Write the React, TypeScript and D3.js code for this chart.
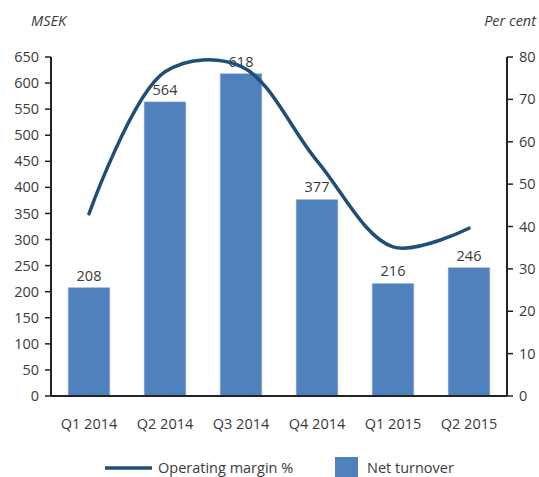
import React from "react";
import * as d3 from "d3";

const quarters = ["Q1 2014", "Q2 2014", "Q3 2014", "Q4 2014", "Q1 2015", "Q2 2015"];
const netTurnover = [208, 564, 618, 377, 216, 246];
const operatingMargin = [43, 76.5, 77.8, 55.5, 35.2, 39.6];
const leftTicks = d3.range(0, 651, 50);
const rightTicks = d3.range(0, 81, 10);

const W = 539;
const H = 477;
const left = 51;
const right = 507;
const top = 57;
const bottom = 396;

const font = "'Open Sans', 'Noto Sans', sans-serif";
const fs = 14.5;
const barColor = "#4f81bd";
const lineColor = "#1f4e79";
const textColor = "#3a3a3a";

const App = () => {
  const x = d3.scaleBand().domain(quarters).range([left, right]).paddingInner(0.45).paddingOuter(0.225);
  const yL = d3.scaleLinear().domain([0, 650]).range([bottom, top]);
  const yR = d3.scaleLinear().domain([0, 80]).range([bottom, top]);

  const line = d3
    .line<number>()
    .x((d, i) => (x(quarters[i]) as number) + x.bandwidth() / 2)
    .y((d) => yR(d))
    .curve(d3.curveCatmullRom.alpha(0.5));

  return (
    <svg
      width={W}
      height={H}
      style={{ position: "absolute", left: 0, top: 0, background: "#fff" }}
      fontFamily={font}
    >
      <text x={31} y={26} fontSize={fs} fontStyle="italic" fill={textColor}>MSEK</text>
      <text x={536} y={26} fontSize={fs} fontStyle="italic" fill={textColor} textAnchor="end">Per cent</text>

      {/* bars */}
      {netTurnover.map((v, i) => (
        <g key={quarters[i]}>
          <rect
            x={x(quarters[i])}
            y={yL(v)}
            width={x.bandwidth()}
            height={bottom - yL(v)}
            fill={barColor}
            stroke="#b8c4d6"
            strokeWidth={0.6}
          />
          <text
            x={(x(quarters[i]) as number) + x.bandwidth() / 2}
            y={yL(v) - 7}
            textAnchor="middle"
            fontSize={fs}
            fill={textColor}
          >
            {v}
          </text>
        </g>
      ))}

      {/* margin line */}
      <path d={line(operatingMargin) || ""} fill="none" stroke={lineColor} strokeWidth={3.5} strokeLinecap="round" />

      {/* left axis */}
      <line x1={left} x2={left} y1={top} y2={bottom} stroke="#222" strokeWidth={2} />
      {leftTicks.map((t) => (
        <g key={"l" + t}>
          <line x1={left - 6} x2={left} y1={yL(t)} y2={yL(t)} stroke="#222" strokeWidth={1.5} />
          <text x={left - 12} y={yL(t)} dy="0.35em" textAnchor="end" fontSize={fs} fill={textColor}>{t}</text>
        </g>
      ))}

      {/* right axis */}
      <line x1={right} x2={right} y1={top} y2={bottom} stroke="#222" strokeWidth={2} />
      {rightTicks.map((t) => (
        <g key={"r" + t}>
          <line x1={right} x2={right + 6} y1={yR(t)} y2={yR(t)} stroke="#222" strokeWidth={1.5} />
          <text x={right + 12} y={yR(t)} dy="0.35em" textAnchor="start" fontSize={fs} fill={textColor}>{t}</text>
        </g>
      ))}

      {/* x axis */}
      <line x1={left} x2={right} y1={bottom} y2={bottom} stroke="#222" strokeWidth={2} />
      {quarters.map((q) => (
        <text
          key={q}
          x={(x(q) as number) + x.bandwidth() / 2}
          y={424}
          dy="0.35em"
          textAnchor="middle"
          fontSize={fs}
          fill={textColor}
        >
          {q}
        </text>
      ))}

      {/* legend */}
      <line x1={105} x2={152} y1={468} y2={468} stroke={lineColor} strokeWidth={3.5} />
      <text x={158} y={468} dy="0.35em" fontSize={fs} fill={textColor}>Operating margin %</text>
      <rect x={335} y={457} width={23} height={20} fill={barColor} />
      <text x={367} y={468} dy="0.35em" fontSize={fs} fill={textColor}>Net turnover</text>
    </svg>
  );
};

export default App;
